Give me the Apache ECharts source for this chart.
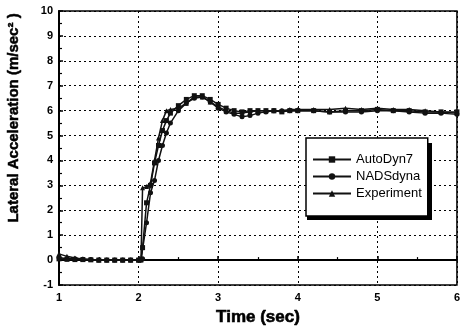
<!DOCTYPE html>
<html><head><meta charset="utf-8">
<script src="https://cdn.jsdelivr.net/npm/echarts@6/dist/echarts.min.js"></script>
<style>html,body{margin:0;padding:0;background:#fff}#c{width:463px;height:336px}</style>
</head><body><div id="c"></div>
<script>
var times = [1.0,1.1,1.2,1.3,1.4,1.5,1.6,1.7,1.8,1.9,2.0,
  2.03,2.05,2.1,2.15,2.2,2.25,2.3,2.35,2.4,
  2.5,2.6,2.7,2.8,2.9,3.0,3.1,3.2,3.3,3.4,3.5,3.6,3.7,3.8,3.9,4.0,
  4.2,4.4,4.6,4.8,5.0,5.2,5.4,5.6,5.8,6.0];
var autoDyn7 = [0.05,0.03,0.02,0.02,0.01,0,0,0,0,0,0,
  0.02,0.5,2.3,3.0,3.9,4.6,5.2,5.6,5.9,
  6.2,6.45,6.6,6.6,6.45,6.25,6.1,6.0,5.95,6.0,6.0,6.0,6.0,5.95,6.0,6.0,
  6.0,5.95,6.0,6.0,6.05,6.0,6.0,5.95,5.95,5.95];
var nadsDyna = [0.1,0.05,0.05,0.03,0.02,0,0,0,0,0,0,
  0,0.05,1.5,2.7,3.2,4.0,4.6,5.1,5.5,
  6.0,6.3,6.5,6.55,6.35,6.1,5.95,5.85,5.75,5.8,5.9,5.95,6.0,6.0,6.0,6.0,
  6.0,5.95,5.95,5.95,6.0,6.0,5.95,5.9,5.9,5.85];
var experiment = [0.25,0.15,0.08,0.04,0.02,0,0,0,0,0,0,
  0.0,2.9,2.95,3.1,4.0,4.9,5.6,6.0,6.05,
  6.1,6.3,6.55,6.55,6.35,6.15,6.0,5.9,5.9,5.95,6.0,6.0,6.0,6.0,6.05,6.05,
  6.05,6.05,6.1,6.05,6.1,6.05,6.05,6.0,5.95,5.9];
var seriesNames = ['AutoDyn7','NADSdyna','Experiment'];
var xTitle = 'Time (sec)';
var yTitle = 'Lateral Acceleration (m/sec² )';

function pairs(v){ return times.map(function(t,i){ return [t, v[i]]; }); }
var font = '"Liberation Sans", Arial, sans-serif';
var chart = echarts.init(document.getElementById('c'));
function mk(name, vals, sym, size){
  return {name:name, type:'line', data:pairs(vals), symbol:sym, symbolSize:size,
    showSymbol:true, lineStyle:{color:'#111', width:1.5}, itemStyle:{color:'#111'},
    animation:false, z:3};
}
chart.setOption({
  animation:false,
  grid:{left:59, right:6, top:11, bottom:51, show:true, borderColor:'#000', borderWidth:1.5, backgroundColor:'transparent'},
  xAxis:{type:'value', min:1, max:6, interval:1,
    axisLine:{lineStyle:{color:'#000', width:2}},
    axisTick:{inside:true, length:4, lineStyle:{color:'#000', width:1.5}},
    minorTick:{show:true, splitNumber:2, length:3, lineStyle:{color:'#000', width:1.2}},
    splitLine:{show:true, lineStyle:{color:'#000', type:[2,3], width:1}},
    axisLabel:{color:'#000', fontFamily:font, fontWeight:'bold', fontSize:11, margin:7},
    name:xTitle, nameLocation:'middle', nameGap:24,
    nameTextStyle:{color:'#000', fontFamily:font, fontWeight:'bold', fontSize:17, textBorderColor:'#000', textBorderWidth:0.6}},
  yAxis:{type:'value', min:-1, max:10, interval:1,
    axisLine:{show:true, lineStyle:{color:'#000', width:2}},
    axisTick:{show:true, inside:true, length:4, lineStyle:{color:'#000', width:1.5}},
    minorTick:{show:true, splitNumber:2, length:3, lineStyle:{color:'#000', width:1.2}},
    splitLine:{show:true, lineStyle:{color:'#000', type:[2,3], width:1}},
    axisLabel:{color:'#000', fontFamily:font, fontWeight:'bold', fontSize:11, margin:6}},
  legend:{orient:'vertical', left:306, top:138, itemWidth:38, itemHeight:8, itemGap:4, z:10,
    padding:[15,6,16,6], backgroundColor:'#fff', borderColor:'#000', borderWidth:1.5,
    textStyle:{color:'#000', fontFamily:font, fontSize:13},
    data:seriesNames},
  graphic:[
    {type:'rect', left:307, top:143, z:5, shape:{width:125, height:77}, style:{fill:'#000'}},
    {type:'text', x:14, y:118, rotation:Math.PI/2, z:5,
    style:{text:yTitle, fill:'#000', font:'bold 15px ' + font, textAlign:'center', textVerticalAlign:'middle', stroke:'#000', lineWidth:0.5}}],
  series:[mk(seriesNames[0], autoDyn7, 'rect', 5), mk(seriesNames[1], nadsDyna, 'circle', 5), mk(seriesNames[2], experiment, 'triangle', 5)]
});
</script></body></html>
